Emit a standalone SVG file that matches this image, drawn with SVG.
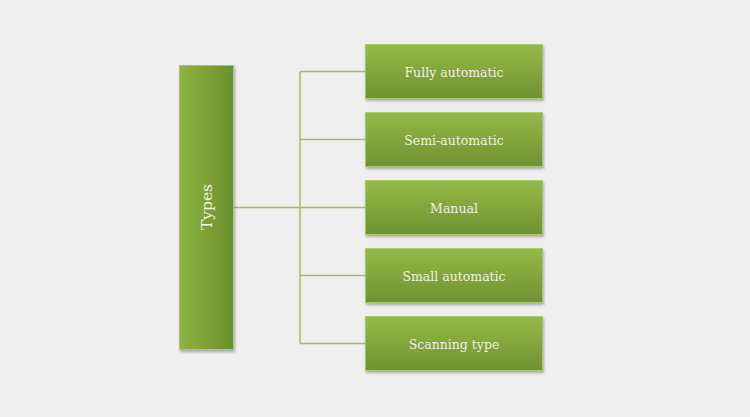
<svg xmlns="http://www.w3.org/2000/svg" width="750" height="417" viewBox="0 0 750 417">
<defs>
<linearGradient id="gh" x1="0" y1="0" x2="1" y2="0"><stop offset="0" stop-color="#8bb440"/><stop offset="1" stop-color="#6c8f30"/></linearGradient>
<linearGradient id="gv" x1="0" y1="0" x2="0" y2="1"><stop offset="0" stop-color="#94bb48"/><stop offset="1" stop-color="#6e9132"/></linearGradient>
<filter id="sh" x="-10%" y="-10%" width="125%" height="130%"><feDropShadow dx="1" dy="2" stdDeviation="1.5" flood-color="#000" flood-opacity="0.3"/></filter>
</defs>
<style>
.bg{fill:#efefef}
.box{fill:url(#gv);stroke:#a9c873;stroke-width:1;filter:url(#sh)}
.main{fill:url(#gh);stroke:#a9c873;stroke-width:1;filter:url(#sh)}
.t{font-family:"DejaVu Serif","Liberation Serif",serif;font-size:12.5px;fill:#f3f1df;text-anchor:middle;dominant-baseline:central}
.c{fill:none;stroke:#9fbd63;stroke-width:1.5}
</style>
<rect class="bg" x="0" y="0" width="750" height="417"/>
<g id="connectors">
<path class="c" d="M234 207.5H365"/>
<path class="c" d="M300 71.5V343.5"/>
<path class="c" d="M300 71.5H365M300 139.5H365M300 275.5H365M300 343.5H365"/>
</g>
<g id="types"><rect class="main" x="179.5" y="65.5" width="54" height="284"/><text class="t" style="font-size:15.5px" transform="translate(207 207) rotate(-90)">Types</text></g>
<g id="fully"><rect class="box" x="365.5" y="44.5" width="177" height="54"/><text class="t" x="454" y="72">Fully automatic</text></g>
<g id="semi"><rect class="box" x="365.5" y="112.5" width="177" height="54"/><text class="t" x="454" y="140">Semi-automatic</text></g>
<g id="manual"><rect class="box" x="365.5" y="180.5" width="177" height="54"/><text class="t" x="454" y="208">Manual</text></g>
<g id="small"><rect class="box" x="365.5" y="248.5" width="177" height="54"/><text class="t" x="454" y="276">Small automatic</text></g>
<g id="scanning"><rect class="box" x="365.5" y="316.5" width="177" height="54"/><text class="t" x="454" y="344">Scanning type</text></g>
</svg>
